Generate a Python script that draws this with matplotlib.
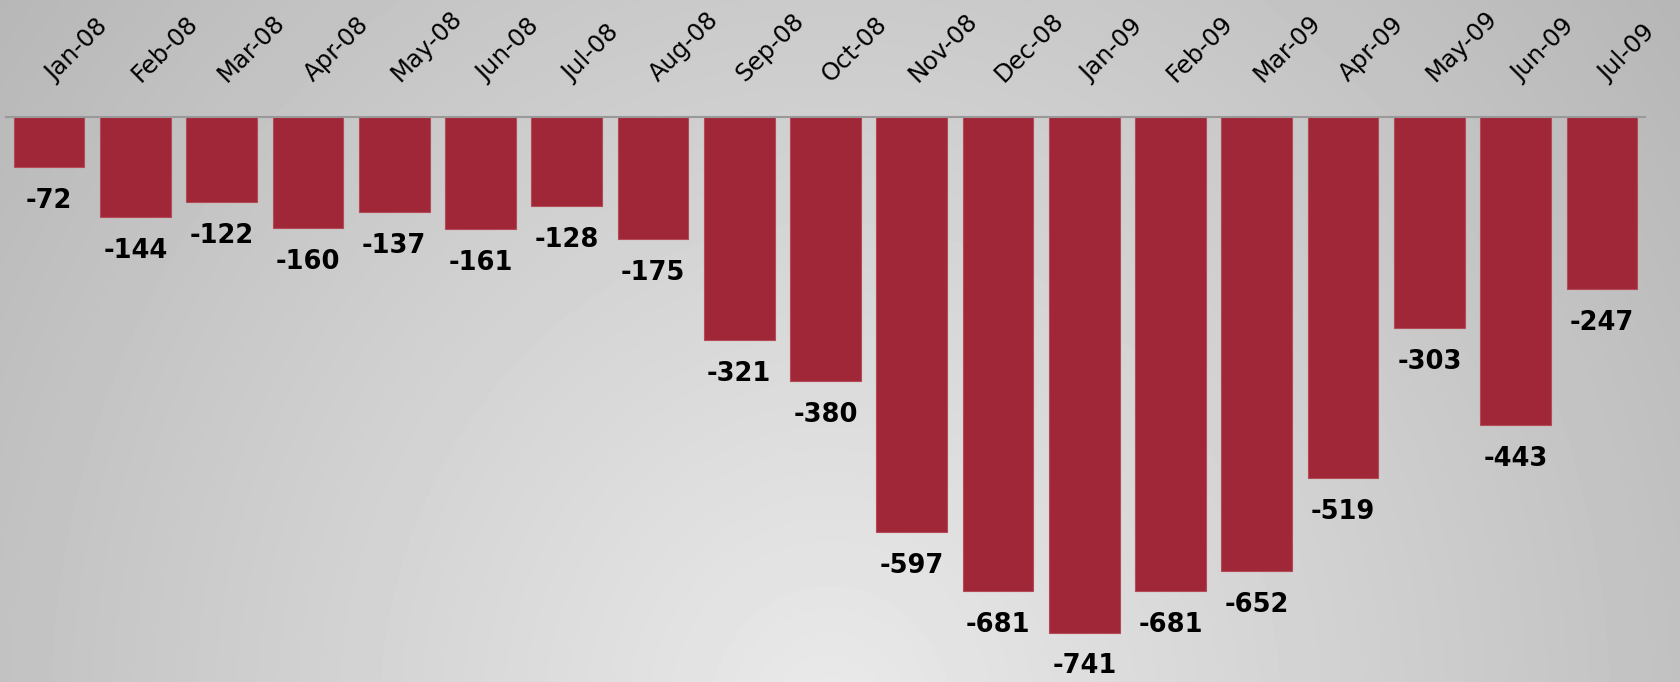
import numpy as np
import matplotlib as mpl
mpl.use('Agg')
import matplotlib.pyplot as plt
from matplotlib.transforms import ScaledTranslation

# ----------------------------------------------------------------------------------------

months = ["Jan-08", "Feb-08", "Mar-08", "Apr-08", "May-08", "Jun-08", "Jul-08",
          "Aug-08", "Sep-08", "Oct-08", "Nov-08", "Dec-08", "Jan-09", "Feb-09",
          "Mar-09", "Apr-09", "May-09", "Jun-09", "Jul-09"]
job_change = [-72, -144, -122, -160, -137, -161, -128, -175, -321, -380,
              -597, -681, -741, -681, -652, -519, -303, -443, -247]

bar_color = "#a02737"

# ----------------------------------------------------------------------------------------

fig = plt.figure(figsize=(16.81, 6.82), dpi=100)

# fond en dégradé radial (clair en bas au centre, plus sombre sur les bords)
bg = fig.add_axes([0, 0, 1, 1])
W, H = 1681, 682
xx, yy = np.meshgrid(np.arange(W), np.arange(H))
r = np.sqrt(((xx - 830) / 950.0) ** 2 + ((yy - 720) / 1050.0) ** 2)
shade = np.clip(234 - 46 * r, 150, 240) / 255.0
bg.imshow(shade, cmap="gray", vmin=0, vmax=1, aspect="auto",
          extent=[0, 1, 0, 1], origin="upper")
bg.set_axis_off()

ax = fig.add_axes([6 / W, 0, (1645 - 6) / W, 1 - 117 / H])
ax.patch.set_alpha(0)

x = np.arange(len(months))
ax.bar(x, job_change, width=0.82, color=bar_color, edgecolor="#b34a58", linewidth=0.8)

for i, v in zip(x, job_change):
    ax.annotate(str(v), (i, v), xytext=(0, -15), textcoords="offset points",
                ha="center", va="top", fontsize=18.5, fontweight="bold", color="black")

ax.set_xlim(-0.5, len(months) - 0.5)
ax.set_ylim(-812, 0)
ax.xaxis.tick_top()
ax.set_xticks(x)
ax.set_xticklabels(months, rotation=45, ha="left", rotation_mode="anchor", fontsize=17.5)
ax.tick_params(axis="x", length=0, pad=22)
# petit décalage vers la droite des étiquettes
shift = ScaledTranslation(9 / 100.0, 0, fig.dpi_scale_trans)
for lbl in ax.get_xticklabels():
    lbl.set_transform(lbl.get_transform() + shift)
ax.set_yticks([])

for side in ["left", "right", "bottom"]:
    ax.spines[side].set_visible(False)
ax.spines["top"].set_color("#999999")
ax.spines["top"].set_linewidth(1.5)

plt.savefig("out.png", dpi=100)
